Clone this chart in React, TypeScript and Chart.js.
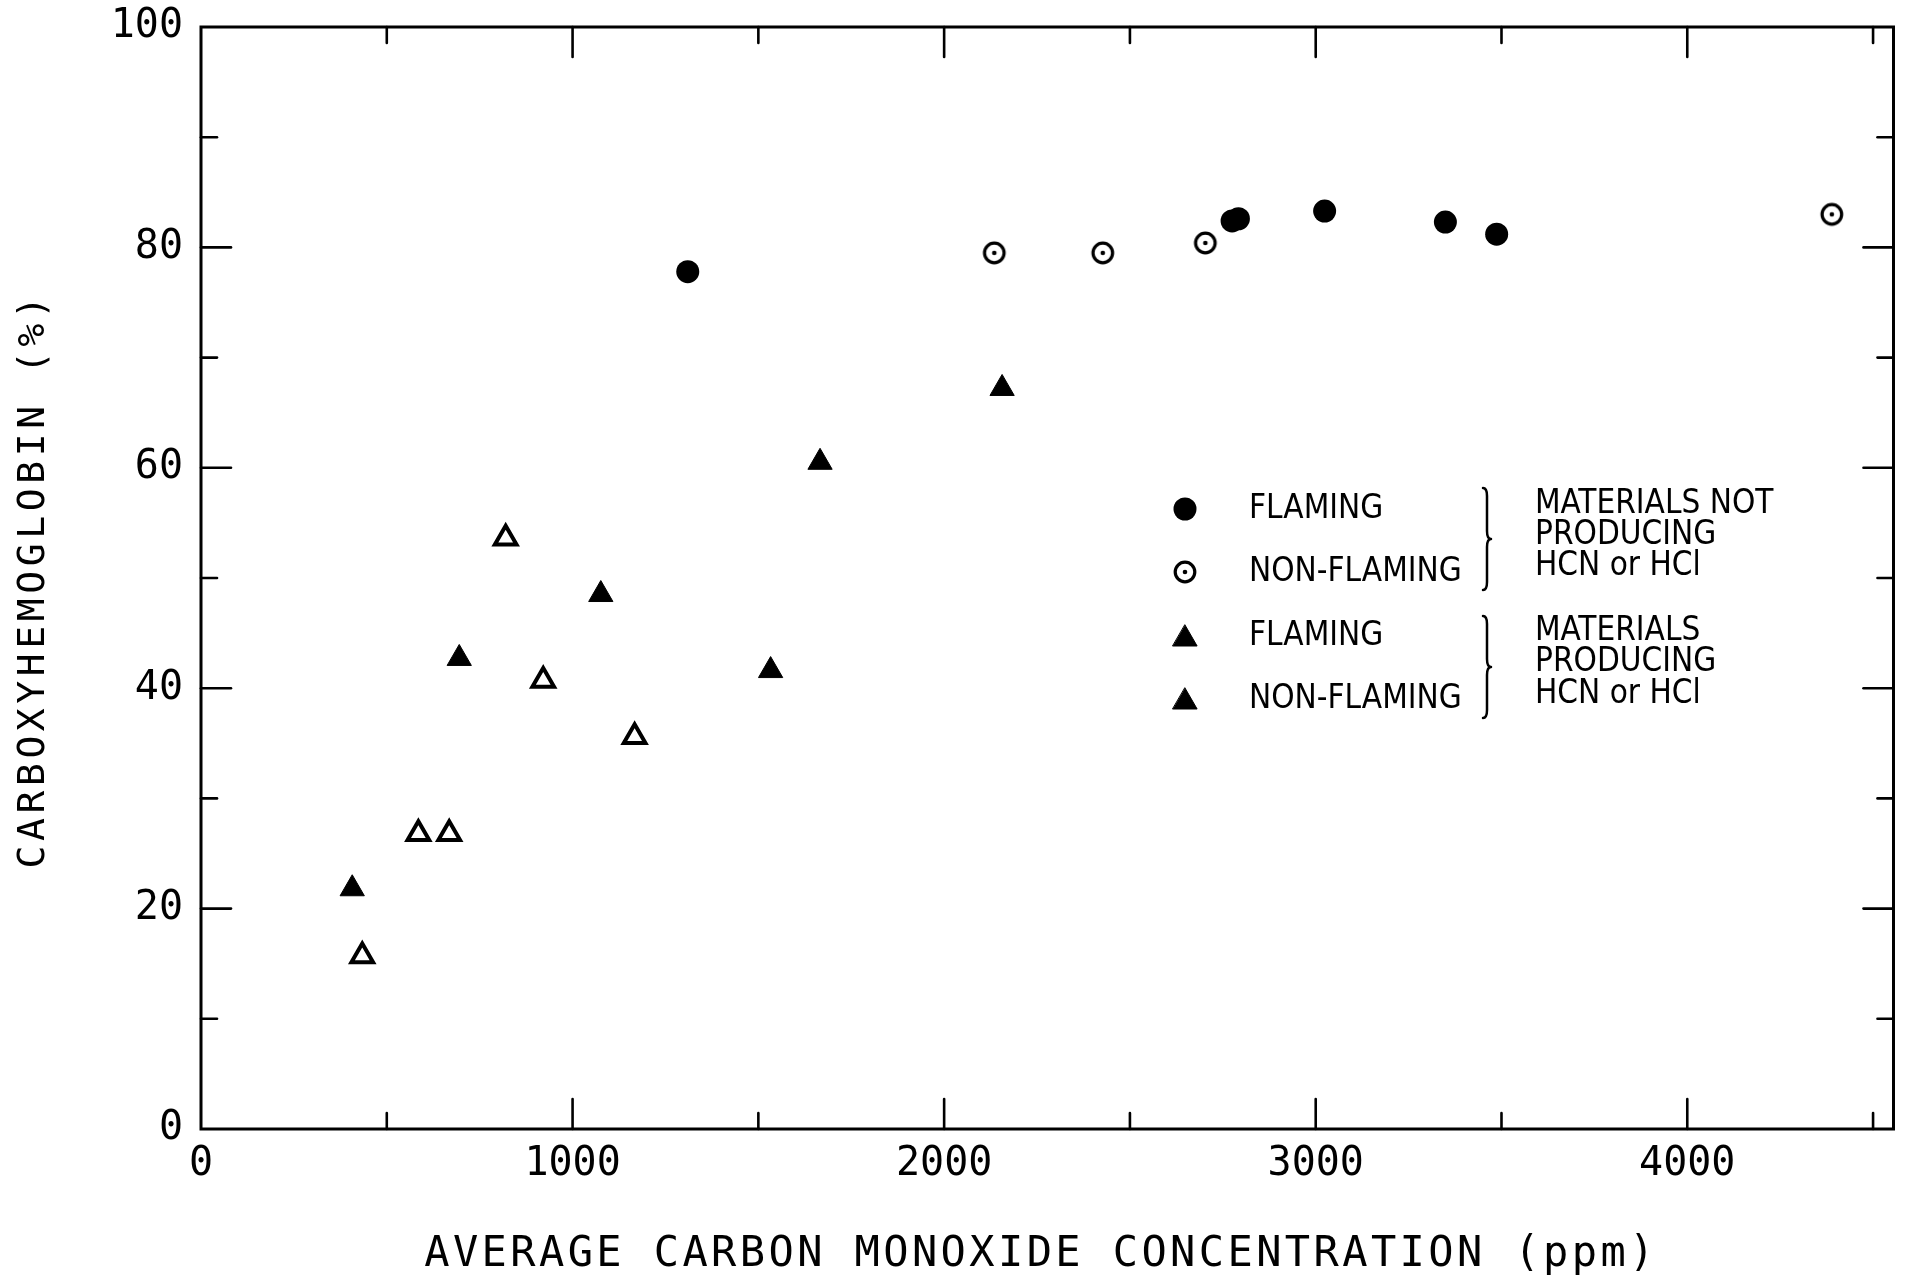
import React, { useEffect, useRef } from "react";
import { Chart, registerables } from "chart.js";

Chart.register(...registerables);

// ---------- data ----------
const flamingNoHcnX = [1310, 2775, 2792, 3024, 3349, 3487];
const flamingNoHcnY = [77.8, 82.4, 82.6, 83.3, 82.3, 81.2];

const nonFlamingNoHcnX = [2135, 2427, 2703, 4389];
const nonFlamingNoHcnY = [79.5, 79.5, 80.4, 83.0];

const flamingHcnX = [407, 695, 1076, 1533, 1666, 2156];
const flamingHcnY = [21.8, 42.7, 48.5, 41.6, 60.5, 67.2];

const nonFlamingHcnX = [434, 585, 668, 820, 921, 1167];
const nonFlamingHcnY = [15.7, 26.8, 26.8, 53.6, 40.7, 35.6];

const xTickValues = [0, 1000, 2000, 3000, 4000];
const xMinorTickValues = [500, 1500, 2500, 3500, 4500];
const yTickValues = [0, 20, 40, 60, 80, 100];
const yMinorTickValues = [10, 30, 50, 70, 90];

const X_TITLE = "AVERAGE CARBON MONOXIDE CONCENTRATION (ppm)";
const Y_TITLE = "CARBOXYHEMOGLOBIN (%)";

const legendLabels = ["FLAMING", "NON-FLAMING", "FLAMING", "NON-FLAMING"];
const groupLines1 = ["MATERIALS NOT", "PRODUCING", "HCN or HCl"];
const groupLines2 = ["MATERIALS", "PRODUCING", "HCN or HCl"];

const X_MIN = 0;
const X_MAX = 4555;
const Y_MIN = 0;
const Y_MAX = 100;

const toPoints = (xs: number[], ys: number[]) => xs.map((x, i) => ({ x, y: ys[i] }));

// ---------- marker drawing ----------
function drawFilledCircle(ctx: CanvasRenderingContext2D, x: number, y: number) {
  ctx.beginPath();
  ctx.arc(x, y, 11.5, 0, Math.PI * 2);
  ctx.fillStyle = "#000";
  ctx.fill();
}
function drawOpenCircle(ctx: CanvasRenderingContext2D, x: number, y: number) {
  ctx.beginPath();
  ctx.arc(x, y, 9.8, 0, Math.PI * 2);
  ctx.fillStyle = "#fff";
  ctx.fill();
  ctx.lineWidth = 3.2;
  ctx.strokeStyle = "#000";
  ctx.stroke();
  ctx.beginPath();
  ctx.arc(x, y, 2.3, 0, Math.PI * 2);
  ctx.fillStyle = "#000";
  ctx.fill();
}
function drawTriangle(ctx: CanvasRenderingContext2D, x: number, y: number, filled: boolean) {
  const r = filled ? 14 : 12.5;
  ctx.beginPath();
  for (let i = 0; i < 3; i++) {
    const a = (i * 2 * Math.PI) / 3;
    const px = x + Math.sin(a) * r;
    const py = y - Math.cos(a) * r;
    if (i === 0) ctx.moveTo(px, py);
    else ctx.lineTo(px, py);
  }
  ctx.closePath();
  ctx.lineJoin = "round";
  if (filled) {
    ctx.fillStyle = "#000";
    ctx.fill();
    ctx.lineWidth = 1;
    ctx.strokeStyle = "#000";
    ctx.stroke();
  } else {
    ctx.fillStyle = "#fff";
    ctx.fill();
    ctx.lineWidth = 4;
    ctx.strokeStyle = "#000";
    ctx.stroke();
  }
}

function makeOpenCircleImage(): HTMLCanvasElement {
  const c = document.createElement("canvas");
  c.width = 28;
  c.height = 28;
  const g = c.getContext("2d")!;
  drawOpenCircle(g, 14, 14);
  return c;
}

function drawBrace(ctx: CanvasRenderingContext2D, x: number, top: number, bottom: number) {
  const w = 8;
  const mid = (top + bottom) / 2;
  ctx.beginPath();
  ctx.moveTo(x, top);
  ctx.quadraticCurveTo(x + w / 2, top, x + w / 2, top + w);
  ctx.lineTo(x + w / 2, mid - w);
  ctx.quadraticCurveTo(x + w / 2, mid, x + w, mid);
  ctx.quadraticCurveTo(x + w / 2, mid, x + w / 2, mid + w);
  ctx.lineTo(x + w / 2, bottom - w);
  ctx.quadraticCurveTo(x + w / 2, bottom, x, bottom);
  ctx.lineWidth = 2.5;
  ctx.strokeStyle = "#000";
  ctx.stroke();
}

// ---------- layout constants ----------
const LAYOUT = {
  width: 1910,
  height: 1281,
  yAxisWidth: 201,
  xAxisHeight: 152,
  padTop: 27,
  padRight: 3,
  xTitle: { x: 1041, y: 1255 },
  yTitle: { x: 34, y: 580 },
  legend: {
    markerX: 1185,
    textX: 1249,
    rowY: [509, 572, 636, 699],
    braceX: 1483,
    group1: [488, 590],
    group2: [616, 718],
    rightX: 1535,
    lines1Y: [504, 535, 566],
    lines2Y: [631, 662, 694],
  },
};

const framePlugin = {
  id: "frameAndExtras",
  afterDraw(chart: any) {
    const { ctx, chartArea: a, scales } = chart;
    const xs = scales.x;
    const ys = scales.y;
    ctx.save();
    ctx.strokeStyle = "#000";
    ctx.lineWidth = 3;
    ctx.lineCap = "round";
    ctx.strokeRect(a.left, a.top, a.right - a.left, a.bottom - a.top);

    const line = (x1: number, y1: number, x2: number, y2: number) => {
      ctx.beginPath();
      ctx.moveTo(x1, y1);
      ctx.lineTo(x2, y2);
      ctx.stroke();
    };
    // x ticks (inward, bottom and top)
    ctx.lineWidth = 2.6;
    xs.ticks.forEach((t: any) => {
      const v = t.value;
      if (v <= X_MIN || v >= X_MAX) return;
      const px = xs.getPixelForValue(v);
      const len = xTickValues.includes(v) ? 30 : 16;
      line(px, a.bottom, px, a.bottom - len);
      line(px, a.top, px, a.top + len);
    });
    // y ticks (inward, left and right)
    ys.ticks.forEach((t: any) => {
      const v = t.value;
      if (v <= Y_MIN || v >= Y_MAX) return;
      const py = ys.getPixelForValue(v);
      const len = yTickValues.includes(v) ? 30 : 16;
      line(a.left, py, a.left + len, py);
      line(a.right, py, a.right - len, py);
    });

    // axis titles
    ctx.fillStyle = "#000";
    ctx.textAlign = "center";
    ctx.textBaseline = "middle";
    try {
      (ctx as any).letterSpacing = "3.4px";
    } catch (e) {}
    ctx.font = '42px "DejaVu Sans Mono", monospace';
    ctx.fillText(X_TITLE, LAYOUT.xTitle.x, LAYOUT.xTitle.y);
    ctx.save();
    ctx.translate(LAYOUT.yTitle.x, LAYOUT.yTitle.y);
    ctx.rotate(-Math.PI / 2);
    try {
      (ctx as any).letterSpacing = "4.6px";
    } catch (e) {}
    ctx.font = '38px "DejaVu Sans Mono", monospace';
    ctx.fillText(Y_TITLE, 0, 0);
    ctx.restore();
    try {
      (ctx as any).letterSpacing = "0px";
    } catch (e) {}

    // legend
    const L = LAYOUT.legend;
    drawFilledCircle(ctx, L.markerX, L.rowY[0]);
    drawOpenCircle(ctx, L.markerX, L.rowY[1]);
    drawTriangle(ctx, L.markerX, L.rowY[2] + 3, true);
    drawTriangle(ctx, L.markerX, L.rowY[3] + 3, true);
    ctx.fillStyle = "#000";
    ctx.textAlign = "left";
    ctx.textBaseline = "middle";
    ctx.font = '33px "DejaVu Sans Condensed", "Liberation Sans Narrow", sans-serif';
    legendLabels.forEach((t, i) => ctx.fillText(t, L.textX, L.rowY[i]));
    drawBrace(ctx, L.braceX, L.group1[0], L.group1[1]);
    drawBrace(ctx, L.braceX, L.group2[0], L.group2[1]);
    ctx.fillStyle = "#000";
    groupLines1.forEach((t, i) => ctx.fillText(t, L.rightX, L.lines1Y[i]));
    groupLines2.forEach((t, i) => ctx.fillText(t, L.rightX, L.lines2Y[i]));
    ctx.restore();
  },
};

export default function App() {
  const canvasRef = useRef<HTMLCanvasElement | null>(null);

  useEffect(() => {
    const canvas = canvasRef.current;
    if (!canvas) return;
    const openCircle = makeOpenCircleImage();
    const tickFont = { family: '"DejaVu Sans Mono", monospace', size: 40 };
    const allX = [...xTickValues, ...xMinorTickValues].sort((p, q) => p - q);
    const allY = [...yTickValues, ...yMinorTickValues].sort((p, q) => p - q);

    const chart = new Chart(canvas, {
      type: "scatter",
      data: {
        datasets: [
          {
            label: "Flaming (not HCN/HCl)",
            data: toPoints(flamingNoHcnX, flamingNoHcnY),
            pointStyle: "circle",
            pointRadius: 11.5,
            backgroundColor: "#000",
            borderColor: "#000",
            borderWidth: 0,
          },
          {
            label: "Non-flaming (not HCN/HCl)",
            data: toPoints(nonFlamingNoHcnX, nonFlamingNoHcnY),
            pointStyle: openCircle,
            pointRadius: 12,
            backgroundColor: "#fff",
            borderColor: "#000",
          },
          {
            label: "Flaming (HCN/HCl)",
            data: toPoints(flamingHcnX, flamingHcnY),
            pointStyle: "triangle",
            pointRadius: 14,
            backgroundColor: "#000",
            borderColor: "#000",
            borderWidth: 1,
          },
          {
            label: "Non-flaming (HCN/HCl)",
            data: toPoints(nonFlamingHcnX, nonFlamingHcnY),
            pointStyle: "triangle",
            pointRadius: 12.5,
            backgroundColor: "#fff",
            borderColor: "#000",
            borderWidth: 4,
          },
        ],
      },
      options: {
        responsive: false,
        animation: false,
        devicePixelRatio: 1,
        events: [],
        layout: {
          padding: { top: LAYOUT.padTop, right: LAYOUT.padRight, left: 0, bottom: 0 },
        },
        plugins: {
          legend: { display: false },
          tooltip: { enabled: false },
          title: { display: false },
        },
        scales: {
          x: {
            type: "linear",
            min: X_MIN,
            max: X_MAX,
            grid: { display: false, drawTicks: false, tickLength: 0 },
            border: { display: false },
            afterBuildTicks: (s: any) => {
              s.ticks = allX.map((v) => ({ value: v }));
            },
            ticks: {
              autoSkip: false,
              maxRotation: 0,
              minRotation: 0,
              padding: 12,
              color: "#000",
              font: tickFont,
              callback: (v: any) => (xTickValues.includes(Number(v)) ? String(v) : ""),
            },
            afterFit: (s: any) => {
              s.height = LAYOUT.xAxisHeight;
              s.paddingLeft = 0;
              s.paddingRight = 0;
              s.paddingTop = 0;
              s.paddingBottom = 0;
            },
          },
          y: {
            type: "linear",
            min: Y_MIN,
            max: Y_MAX,
            grid: { display: false, drawTicks: false, tickLength: 0 },
            border: { display: false },
            afterBuildTicks: (s: any) => {
              s.ticks = allY.map((v) => ({ value: v }));
            },
            ticks: {
              autoSkip: false,
              padding: 18,
              color: "#000",
              font: tickFont,
              callback: (v: any) => (yTickValues.includes(Number(v)) ? String(v) : ""),
            },
            afterFit: (s: any) => {
              s.width = LAYOUT.yAxisWidth;
              s.paddingTop = 0;
              s.paddingBottom = 0;
              s.paddingLeft = 0;
              s.paddingRight = 0;
            },
          },
        },
      } as any,
      plugins: [framePlugin],
    });
    return () => chart.destroy();
  }, []);

  return (
    <div
      style={{
        position: "fixed",
        left: 0,
        top: 0,
        width: LAYOUT.width,
        height: LAYOUT.height,
        background: "#fff",
      }}
    >
      <canvas
        ref={canvasRef}
        width={LAYOUT.width}
        height={LAYOUT.height}
        style={{ display: "block", width: LAYOUT.width, height: LAYOUT.height }}
      />
    </div>
  );
}
